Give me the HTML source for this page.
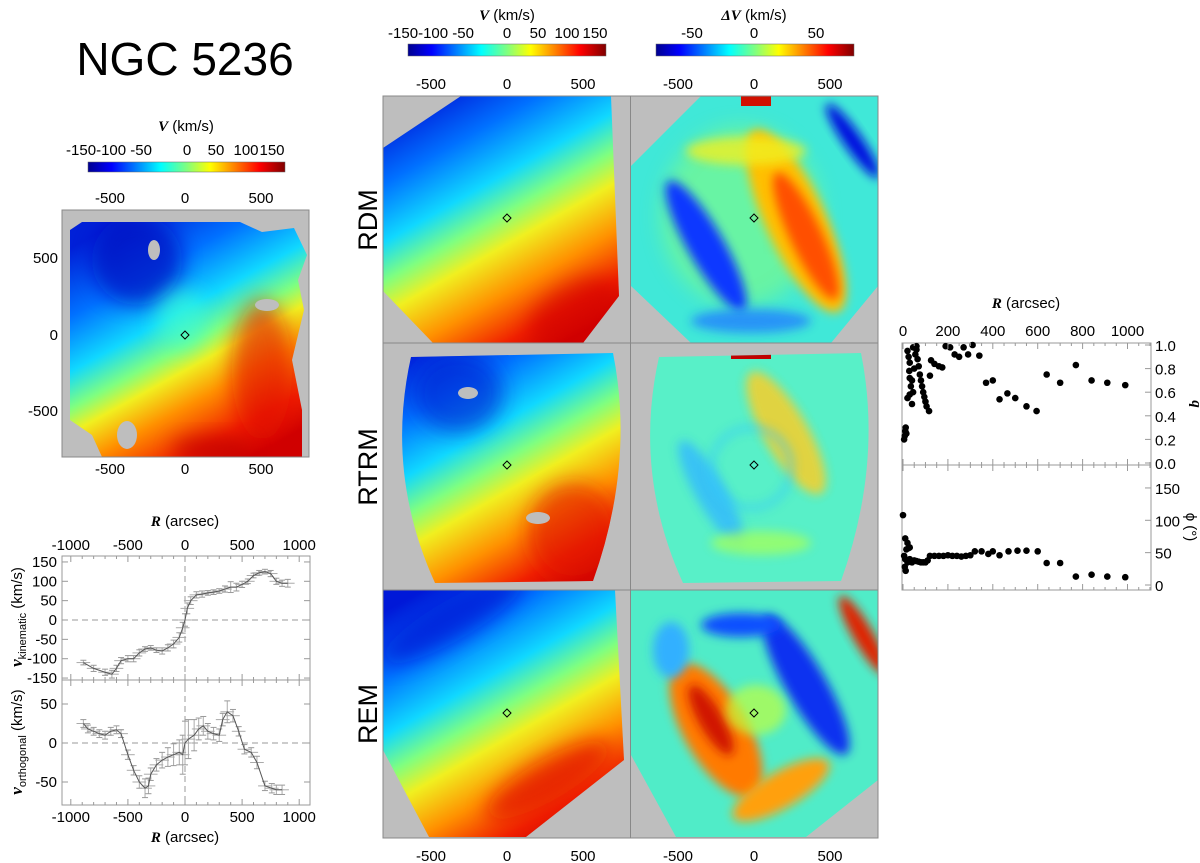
<!DOCTYPE html>
<html><head><meta charset="utf-8"><style>
html,body{margin:0;padding:0;background:#fff;}
svg{display:block;font-family:"Liberation Sans",sans-serif;}
.t{font-size:15px;fill:#000;}
.bi{font-family:"Liberation Serif",serif;font-weight:bold;font-style:italic;}
</style></head><body>
<svg id="fig" width="1200" height="863" viewBox="0 0 1200 863" xmlns="http://www.w3.org/2000/svg">
<defs>
<linearGradient id="jetH" x1="0" y1="0" x2="1" y2="0">
<stop offset="0" stop-color="#00008f"/><stop offset="0.12" stop-color="#0000ff"/><stop offset="0.37" stop-color="#00ffff"/><stop offset="0.5" stop-color="#7fff80"/><stop offset="0.62" stop-color="#ffff00"/><stop offset="0.87" stop-color="#ff0000"/><stop offset="1" stop-color="#800000"/>
</linearGradient>
<linearGradient id="velG" gradientUnits="userSpaceOnUse" x1="40" y1="0" x2="180" y2="247">
<stop offset="0" stop-color="#0018d8"/><stop offset="0.2" stop-color="#0070ff"/><stop offset="0.38" stop-color="#10d8ff"/><stop offset="0.5" stop-color="#7fff80"/><stop offset="0.6" stop-color="#f0f020"/><stop offset="0.75" stop-color="#ff9000"/><stop offset="0.9" stop-color="#f02000"/><stop offset="1" stop-color="#d00000"/>
</linearGradient>
<linearGradient id="velL" gradientUnits="userSpaceOnUse" x1="60" y1="10" x2="190" y2="247">
<stop offset="0" stop-color="#0020d8"/><stop offset="0.22" stop-color="#0070ff"/><stop offset="0.4" stop-color="#10d8ff"/><stop offset="0.52" stop-color="#7fff80"/><stop offset="0.6" stop-color="#f0f020"/><stop offset="0.72" stop-color="#ff9000"/><stop offset="0.88" stop-color="#f02000"/><stop offset="1" stop-color="#d00000"/>
</linearGradient>
<filter id="blur" x="-50%" y="-50%" width="200%" height="200%"><feGaussianBlur stdDeviation="10"/></filter>
<filter id="blur2" x="-50%" y="-50%" width="200%" height="200%"><feGaussianBlur stdDeviation="5"/></filter>
<clipPath id="fpRDM"><polygon points="0,52 78,0 228,0 236,200 200,247 50,247 0,195"/></clipPath>
<clipPath id="fpRDM2"><polygon points="0,70 70,0 247,0 247,190 200,247 60,247 0,190"/></clipPath>
<clipPath id="fpRTRM"><path d="M28,14 L230,10 Q252,120 210,238 L52,240 Q2,130 28,14 Z"/></clipPath>
<clipPath id="fpREM"><polygon points="0,0 232,0 241,170 143,247 46,247 0,160"/></clipPath>
<clipPath id="fpREM2"><polygon points="0,0 247,0 247,190 175,247 45,247 0,165"/></clipPath>
<clipPath id="fpL"><path d="M8,20 L20,12 L178,12 L200,22 L232,18 L245,45 L236,70 L242,100 L230,150 L240,200 L240,247 L40,247 L30,225 L8,210 Z"/></clipPath>
</defs>

<text x="185" y="75" text-anchor="middle" font-size="46">NGC 5236</text>

<g>
<text x="186" y="131" text-anchor="middle" class="t"><tspan class="bi">V</tspan> (km/s)</text>
<rect x="88" y="162" width="197" height="10" fill="url(#jetH)" stroke="#666" stroke-width="0.5"/>
<text x="109" y="155" text-anchor="middle" class="t">-150-100 -50</text>
<text x="187" y="155" text-anchor="middle" class="t">0</text>
<text x="216" y="155" text-anchor="middle" class="t">50</text>
<text x="246" y="155" text-anchor="middle" class="t">100</text>
<text x="272" y="155" text-anchor="middle" class="t">150</text>
</g>

<g>
<rect x="62" y="210" width="247" height="247" fill="#bebebe"/>
<g transform="translate(62,210)">
<g clip-path="url(#fpL)">
<rect x="0" y="0" width="247" height="247" fill="url(#velL)"/>
<ellipse cx="75" cy="50" rx="45" ry="45" fill="#0010c0" filter="url(#blur)" opacity="0.7"/>
<ellipse cx="200" cy="160" rx="30" ry="70" fill="#e01000" filter="url(#blur)" opacity="0.6"/>
<ellipse cx="120" cy="110" rx="25" ry="30" fill="#40ffd0" filter="url(#blur)" opacity="0.6"/>
<ellipse cx="150" cy="240" rx="40" ry="14" fill="#c00000" filter="url(#blur)" opacity="0.7"/>
</g>
<ellipse cx="92" cy="40" rx="6" ry="10" fill="#bebebe"/>
<ellipse cx="205" cy="95" rx="12" ry="6" fill="#bebebe"/>
<ellipse cx="65" cy="225" rx="10" ry="14" fill="#bebebe"/>
</g>
<polygon points="185,331 189,335 185,339 181,335" fill="none" stroke="#000" stroke-width="1"/>
<rect x="62" y="210" width="247" height="247" fill="none" stroke="#888" stroke-width="1"/>
<text x="110" y="203" text-anchor="middle" class="t">-500</text><text x="185" y="203" text-anchor="middle" class="t">0</text><text x="261" y="203" text-anchor="middle" class="t">500</text>
<text x="110" y="474" text-anchor="middle" class="t">-500</text><text x="185" y="474" text-anchor="middle" class="t">0</text><text x="261" y="474" text-anchor="middle" class="t">500</text>
<text x="58" y="263" text-anchor="end" class="t">500</text><text x="58" y="340" text-anchor="end" class="t">0</text><text x="58" y="416" text-anchor="end" class="t">-500</text>
</g>

<g>
<text x="507" y="20" text-anchor="middle" class="t"><tspan class="bi">V</tspan> (km/s)</text>
<rect x="408" y="44" width="198" height="12" fill="url(#jetH)" stroke="#666" stroke-width="0.5"/>
<text x="431" y="38" text-anchor="middle" class="t">-150-100 -50</text>
<text x="507" y="38" text-anchor="middle" class="t">0</text>
<text x="538" y="38" text-anchor="middle" class="t">50</text>
<text x="567" y="38" text-anchor="middle" class="t">100</text>
<text x="595" y="38" text-anchor="middle" class="t">150</text>
</g>
<g>
<text x="754" y="20" text-anchor="middle" class="t"><tspan class="bi">ΔV</tspan> (km/s)</text>
<rect x="656" y="44" width="198" height="12" fill="url(#jetH)" stroke="#666" stroke-width="0.5"/>
<text x="692" y="38" text-anchor="middle" class="t">-50</text>
<text x="754" y="38" text-anchor="middle" class="t">0</text>
<text x="816" y="38" text-anchor="middle" class="t">50</text>
</g>

<rect x="383" y="96" width="495" height="742" fill="#bebebe"/>

<g transform="translate(383,96)">
<g clip-path="url(#fpRDM)"><rect width="247" height="247" fill="url(#velG)"/>
<ellipse cx="190" cy="215" rx="50" ry="25" fill="#d00000" filter="url(#blur)" opacity="0.6" transform="rotate(-30 190 215)"/></g>
</g>
<g transform="translate(631,96)">
<g clip-path="url(#fpRDM2)"><rect width="247" height="247" fill="#40e8d8"/>
<ellipse cx="110" cy="120" rx="80" ry="90" fill="#90ff70" filter="url(#blur)" opacity="0.5"/>
<ellipse cx="165" cy="125" rx="30" ry="100" fill="#ffc000" filter="url(#blur2)" transform="rotate(-25 165 125)"/>
<ellipse cx="175" cy="140" rx="16" ry="70" fill="#ff5000" filter="url(#blur2)" transform="rotate(-25 175 140)"/>
<ellipse cx="75" cy="150" rx="18" ry="75" fill="#0838ff" filter="url(#blur2)" transform="rotate(-30 75 150)"/>
<ellipse cx="115" cy="55" rx="60" ry="14" fill="#f0f020" filter="url(#blur2)" opacity="0.8"/>
<ellipse cx="222" cy="45" rx="9" ry="45" fill="#0010e0" filter="url(#blur2)" transform="rotate(-35 222 45)"/>
<ellipse cx="120" cy="225" rx="60" ry="12" fill="#2080ff" filter="url(#blur2)" opacity="0.8"/>
<rect x="110" y="0" width="30" height="10" fill="#d01000"/></g>
</g>
<g transform="translate(383,343)">
<g clip-path="url(#fpRTRM)"><rect width="247" height="247" fill="url(#velG)"/>
<ellipse cx="190" cy="190" rx="45" ry="50" fill="#e01800" filter="url(#blur)" opacity="0.6"/>
<ellipse cx="75" cy="50" rx="45" ry="40" fill="#0020d0" filter="url(#blur)" opacity="0.6"/></g>
<ellipse cx="85" cy="50" rx="10" ry="6" fill="#bebebe"/><ellipse cx="155" cy="175" rx="12" ry="6" fill="#bebebe"/>
</g>
<g transform="translate(631,343)">
<g clip-path="url(#fpRTRM)"><rect width="247" height="247" fill="#58f0c8"/>
<ellipse cx="155" cy="90" rx="22" ry="70" fill="#f0d030" filter="url(#blur2)" transform="rotate(-30 155 90)" opacity="0.9"/>
<ellipse cx="80" cy="150" rx="15" ry="60" fill="#30b8ff" filter="url(#blur2)" transform="rotate(-30 80 150)" opacity="0.8"/>
<ellipse cx="130" cy="200" rx="50" ry="12" fill="#a0ff60" filter="url(#blur2)" opacity="0.8"/>
<ellipse cx="120" cy="125" rx="40" ry="40" fill="none" stroke="#30c8ff" stroke-width="6" filter="url(#blur2)" opacity="0.6"/>
<rect x="100" y="8" width="40" height="8" fill="#c00000"/></g>
</g>
<g transform="translate(383,590)">
<g clip-path="url(#fpREM)"><rect width="247" height="247" fill="url(#velG)"/>
<ellipse cx="165" cy="190" rx="70" ry="20" fill="#e01000" filter="url(#blur)" opacity="0.7" transform="rotate(-30 165 190)"/>
<ellipse cx="70" cy="30" rx="80" ry="20" fill="#0010d0" filter="url(#blur)" opacity="0.6" transform="rotate(-30 70 30)"/></g>
</g>
<g transform="translate(631,590)">
<g clip-path="url(#fpREM2)"><rect width="247" height="247" fill="#50ecc8"/>
<ellipse cx="85" cy="140" rx="32" ry="75" fill="#ff7a00" filter="url(#blur2)" transform="rotate(-30 85 140)"/>
<ellipse cx="80" cy="130" rx="12" ry="40" fill="#d01800" filter="url(#blur2)" transform="rotate(-30 80 130)"/>
<ellipse cx="150" cy="200" rx="55" ry="18" fill="#ffa010" filter="url(#blur2)" transform="rotate(-30 150 200)"/>
<ellipse cx="175" cy="95" rx="20" ry="80" fill="#0830f0" filter="url(#blur2)" transform="rotate(-30 175 95)"/>
<ellipse cx="110" cy="35" rx="40" ry="12" fill="#1050ff" filter="url(#blur2)"/>
<ellipse cx="232" cy="45" rx="10" ry="45" fill="#e02000" filter="url(#blur2)" transform="rotate(-30 232 45)"/>
<ellipse cx="40" cy="60" rx="18" ry="28" fill="#30b0ff" filter="url(#blur2)"/>
<ellipse cx="125" cy="120" rx="30" ry="25" fill="#c0ff40" filter="url(#blur2)" opacity="0.7"/></g>
</g>

<g fill="none" stroke="#000" stroke-width="1">
<polygon points="507,214 511,218 507,222 503,218"/><polygon points="754,214 758,218 754,222 750,218"/>
<polygon points="507,461 511,465 507,469 503,465"/><polygon points="754,461 758,465 754,469 750,465"/>
<polygon points="507,709 511,713 507,717 503,713"/><polygon points="754,709 758,713 754,717 750,713"/>
</g>
<g fill="none" stroke="#888" stroke-width="1">
<rect x="383" y="96" width="495" height="742"/>
<line x1="630.5" y1="96" x2="630.5" y2="838"/><line x1="383" y1="343" x2="878" y2="343"/><line x1="383" y1="590" x2="878" y2="590"/>
</g>
<g>
<text x="431" y="89" text-anchor="middle" class="t">-500</text><text x="507" y="89" text-anchor="middle" class="t">0</text><text x="583" y="89" text-anchor="middle" class="t">500</text>
<text x="678" y="89" text-anchor="middle" class="t">-500</text><text x="754" y="89" text-anchor="middle" class="t">0</text><text x="830" y="89" text-anchor="middle" class="t">500</text>
<text x="431" y="861" text-anchor="middle" class="t">-500</text><text x="507" y="861" text-anchor="middle" class="t">0</text><text x="583" y="861" text-anchor="middle" class="t">500</text>
<text x="678" y="861" text-anchor="middle" class="t">-500</text><text x="754" y="861" text-anchor="middle" class="t">0</text><text x="830" y="861" text-anchor="middle" class="t">500</text>
<text transform="translate(377,220) rotate(-90)" text-anchor="middle" font-size="27">RDM</text>
<text transform="translate(377,467) rotate(-90)" text-anchor="middle" font-size="27">RTRM</text>
<text transform="translate(377,714) rotate(-90)" text-anchor="middle" font-size="27">REM</text>
</g>

<g id="lineplots"></g>
<g id="rightplots"></g>
</svg>
<script>
const vkR = [-890,-800,-700,-640,-600,-560,-500,-450,-400,-350,-300,-250,-200,-150,-100,-50,-20,0,20,50,100,150,200,250,300,350,400,450,500,550,600,650,700,750,800,850,900];
const vkV = [-110,-125,-135,-140,-125,-105,-100,-100,-85,-75,-72,-78,-80,-72,-62,-45,-20,0,30,50,65,67,70,72,75,80,85,85,92,100,115,122,125,120,100,95,95];
const vkErr = [6,8,8,10,8,8,8,8,8,6,6,6,8,8,10,12,14,16,14,10,8,8,6,6,6,8,14,10,8,6,6,6,6,8,8,8,10];
const voR = [-890,-850,-800,-750,-700,-650,-600,-560,-500,-450,-400,-350,-320,-300,-250,-200,-150,-100,-50,-20,0,30,80,120,160,200,250,300,330,370,420,470,520,580,630,700,760,800,850];
const voV = [25,18,15,12,10,15,17,12,-15,-35,-50,-58,-55,-40,-28,-22,-18,-15,-12,-15,0,5,10,18,22,15,12,10,30,40,35,15,-8,-12,-25,-55,-58,-60,-60];
const voErr = [5,5,5,5,5,5,5,5,6,6,8,12,10,8,8,10,12,14,16,25,28,25,20,14,12,10,8,8,8,14,8,6,6,6,8,6,6,6,6];
const qR = [5,8,10,12,15,20,25,30,28,30,35,30,40,20,45,40,50,55,45,60,60,65,70,75,80,85,90,95,100,105,116,120,125,140,160,175,190,210,230,250,270,290,310,340,370,400,430,465,500,550,595,640,700,770,840,910,990];
const qV = [0.2,0.23,0.27,0.3,0.25,0.95,0.9,0.85,0.78,0.72,0.65,0.58,0.5,0.55,0.6,0.7,0.8,0.92,0.98,0.99,0.96,0.88,0.82,0.75,0.7,0.65,0.6,0.56,0.52,0.48,0.44,0.74,0.87,0.84,0.82,0.81,0.99,0.98,0.92,0.9,0.98,0.92,1.0,0.91,0.68,0.7,0.54,0.59,0.55,0.48,0.44,0.75,0.68,0.83,0.7,0.68,0.66];
const phR = [0,10,20,15,25,30,5,10,8,12,20,30,40,50,60,70,80,90,100,110,120,140,160,180,200,220,240,260,280,300,320,350,380,400,430,470,510,550,600,640,700,770,840,910,990];
const phV = [108,72,65,55,57,58,45,40,28,22,35,40,35,38,37,36,35,35,35,38,45,45,45,45,46,45,45,44,45,46,52,52,48,52,46,52,53,53,52,34,34,13,16,13,12];
const lpXTicks = [-1000,-500,0,500,1000];
const vkTicks = [150,100,50,0,-50,-100,-150];
const voTicks = [50,0,-50];
const rpXTicks = [0,200,400,600,800,1000];
const qTicks = [0.0,0.2,0.4,0.6,0.8,1.0];
const phTicks = [0,50,100,150];

const NS = "http://www.w3.org/2000/svg";
function mk(parent, tag, attrs, txt){ const e=document.createElementNS(NS,tag); for(const k in attrs) e.setAttribute(k,attrs[k]); if(txt!==undefined) e.textContent=txt; parent.appendChild(e); return e; }

const LP = document.getElementById('lineplots');
const lx = r => 185 + r*0.1142;
const vkY = v => 620 - v*0.387;
const voY = v => 743 - v*0.78;
const L0=62, L1=310, T0=556, TM=680, T1=805;
mk(LP,'line',{x1:L0,y1:vkY(0),x2:L1,y2:vkY(0),stroke:'#999','stroke-dasharray':'6,4','stroke-width':1});
mk(LP,'line',{x1:L0,y1:voY(0),x2:L1,y2:voY(0),stroke:'#999','stroke-dasharray':'6,4','stroke-width':1});
mk(LP,'line',{x1:lx(0),y1:T0,x2:lx(0),y2:T1,stroke:'#999','stroke-dasharray':'6,4','stroke-width':1});
function series(R,V,E,yf,name){
  const g = mk(LP,'g',{});
  
  
  for(let i=0;i<R.length;i++){
    const x=lx(R[i]), y=yf(V[i]);
    mk(g,'line',{x1:lx(R[i]-60),y1:y,x2:lx(R[i]+60),y2:y,stroke:'#aaa','stroke-width':1});
    mk(g,'line',{x1:x,y1:yf(V[i]-E[i]),x2:x,y2:yf(V[i]+E[i]),stroke:'#aaa','stroke-width':1});
    mk(g,'line',{x1:x-3,y1:yf(V[i]-E[i]),x2:x+3,y2:yf(V[i]-E[i]),stroke:'#999','stroke-width':1});
    mk(g,'line',{x1:x-3,y1:yf(V[i]+E[i]),x2:x+3,y2:yf(V[i]+E[i]),stroke:'#999','stroke-width':1});
  }
  mk(g,'polyline',{points:R.map((r,i)=>lx(r)+','+yf(V[i])).join(' '),fill:'none',stroke:'#555','stroke-width':1});
}
series(vkR,vkV,vkErr,vkY,'v-kinematic-series');
series(voR,voV,voErr,voY,'v-orthogonal-series');
mk(LP,'rect',{x:L0,y:T0,width:L1-L0,height:T1-T0,fill:'none',stroke:'#999'});
mk(LP,'line',{x1:L0,y1:TM,x2:L1,y2:TM,stroke:'#999'});
for(const t of lpXTicks){
  mk(LP,'text',{x:lx(t),y:550,'text-anchor':'middle',class:'t'},String(t));
  mk(LP,'text',{x:lx(t),y:822,'text-anchor':'middle',class:'t'},String(t));
}
for(let r=-1000;r<=1000;r+=100){ const x=lx(r); if(x<L0||x>L1) continue; const len=r%500===0?6:3;
  for(const y of [T0,TM,T1]){ if(y!==T0) mk(LP,'line',{x1:x,y1:y,x2:x,y2:y-len,stroke:'#999'}); if(y!==T1) mk(LP,'line',{x1:x,y1:y,x2:x,y2:y+len,stroke:'#999'}); } }
for(const t of vkTicks){ mk(LP,'text',{x:57,y:vkY(t)+5,'text-anchor':'end',class:'t'},String(t)); mk(LP,'line',{x1:L0,y1:vkY(t),x2:L0+6,y2:vkY(t),stroke:'#999'}); mk(LP,'line',{x1:L1,y1:vkY(t),x2:L1-6,y2:vkY(t),stroke:'#999'}); }
for(const t of voTicks){ mk(LP,'text',{x:57,y:voY(t)+5,'text-anchor':'end',class:'t'},String(t)); mk(LP,'line',{x1:L0,y1:voY(t),x2:L0+6,y2:voY(t),stroke:'#999'}); mk(LP,'line',{x1:L1,y1:voY(t),x2:L1-6,y2:voY(t),stroke:'#999'}); }
let tt = mk(LP,'text',{x:185,y:526,'text-anchor':'middle',class:'t'});
tt.innerHTML = '<tspan class="bi">R</tspan> (arcsec)';
tt = mk(LP,'text',{x:185,y:842,'text-anchor':'middle',class:'t'});
tt.innerHTML = '<tspan class="bi">R</tspan> (arcsec)';
tt = mk(LP,'text',{transform:'translate(22,617) rotate(-90)','text-anchor':'middle',class:'t'});
tt.innerHTML = '<tspan class="bi" font-size="17">v</tspan><tspan font-size="11" dy="4">kinematic</tspan><tspan dy="-4"> (km/s)</tspan>';
tt = mk(LP,'text',{transform:'translate(22,742) rotate(-90)','text-anchor':'middle',class:'t'});
tt.innerHTML = '<tspan class="bi" font-size="17">v</tspan><tspan font-size="11" dy="4">orthogonal</tspan><tspan dy="-4"> (km/s)</tspan>';

const RP = document.getElementById('rightplots');
const rx = r => 903 + r*0.2245;
const qY = q => 463 - q*118;
const pY = p => 585 - p*0.647;
const X0=902, X1=1151, Y0=343, YM=465, Y1=590;
mk(RP,'rect',{x:X0,y:Y0,width:X1-X0,height:Y1-Y0,fill:'none',stroke:'#999'});
mk(RP,'line',{x1:X0,y1:YM,x2:X1,y2:YM,stroke:'#999'});
const qg = mk(RP,'g',{});


for(let i=0;i<qR.length;i++){ const y=Math.max(Y0+1,qY(qV[i])); mk(qg,'circle',{cx:rx(qR[i]),cy:y,r:3.3,fill:'#000'}); }
const pg = mk(RP,'g',{});


for(let i=0;i<phR.length;i++){ mk(pg,'circle',{cx:rx(phR[i]),cy:pY(phV[i]),r:3.3,fill:'#000'}); }
for(const t of rpXTicks){ mk(RP,'text',{x:rx(t),y:336,'text-anchor':'middle',class:'t'},String(t)); }
for(let r=0;r<=1100;r+=50){ const x=rx(r); if(x>X1) continue; const len=r%200===0?6:3;
  for(const y of [Y0,YM,Y1]){ if(y!==Y1) mk(RP,'line',{x1:x,y1:y,x2:x,y2:y+len,stroke:'#999'}); if(y!==Y0) mk(RP,'line',{x1:x,y1:y,x2:x,y2:y-len,stroke:'#999'}); } }
for(const t of qTicks){ mk(RP,'text',{x:1155,y:qY(t)+6,class:'t'},t.toFixed(1)); mk(RP,'line',{x1:X1,y1:qY(t),x2:X1-6,y2:qY(t),stroke:'#999'}); }
for(const t of phTicks){ mk(RP,'text',{x:1155,y:pY(t)+6,class:'t'},String(t)); mk(RP,'line',{x1:X1,y1:pY(t),x2:X1-6,y2:pY(t),stroke:'#999'}); }
tt = mk(RP,'text',{x:1026,y:308,'text-anchor':'middle',class:'t'});
tt.innerHTML = '<tspan class="bi">R</tspan> (arcsec)';
mk(RP,'text',{transform:'translate(1192,404) rotate(90)','text-anchor':'middle',class:'t bi','font-size':'17'},'q');
mk(RP,'text',{transform:'translate(1186,527) rotate(90)','text-anchor':'middle',class:'t'},'ϕ (°)');
</script>
</body></html>
